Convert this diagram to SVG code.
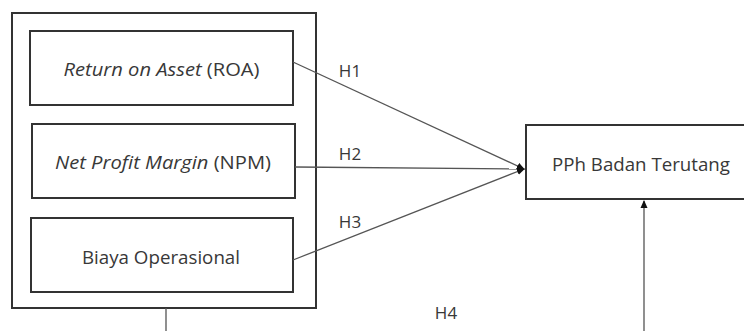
<svg xmlns="http://www.w3.org/2000/svg" width="744" height="331" viewBox="0 0 744 331">
<defs>
<marker id="ah" markerWidth="8" markerHeight="8" refX="7" refY="4" orient="auto" markerUnits="userSpaceOnUse">
<path d="M0,0.5 L8,4 L0,7.5 z" fill="#111"/>
</marker>
<style>
.box{fill:#fff;stroke:#333;stroke-width:2}
.t{font-family:"Open Sans","Liberation Sans",sans-serif;font-size:18px;fill:#383838;text-anchor:middle}
.i{font-style:italic}
.ln{fill:none;stroke:#555;stroke-width:1.3}
.h{font-family:"Open Sans","Liberation Sans",sans-serif;font-size:17px;fill:#383838;text-anchor:middle}
</style>
</defs>
<rect width="744" height="331" fill="#fff"/>
<g id="group">
<rect class="box" x="12" y="13" width="304" height="295"/>
</g>
<g id="roa">
<rect class="box" x="30" y="31" width="263" height="74"/>
<text class="t" x="161.5" y="76" textLength="196" lengthAdjust="spacingAndGlyphs"><tspan class="i">Return on Asset</tspan> (ROA)</text>
</g>
<g id="npm">
<rect class="box" x="32" y="124" width="263" height="74"/>
<text class="t" x="163" y="169" textLength="216" lengthAdjust="spacingAndGlyphs"><tspan class="i">Net Profit Margin</tspan> (NPM)</text>
</g>
<g id="biaya">
<rect class="box" x="31" y="218" width="262" height="74"/>
<text class="t" x="161" y="264" textLength="158" lengthAdjust="spacingAndGlyphs">Biaya Operasional</text>
</g>
<g id="pph">
<rect class="box" x="526" y="125" width="230" height="74"/>
<text class="t" x="641" y="171" textLength="178" lengthAdjust="spacingAndGlyphs">PPh Badan Terutang</text>
</g>
<g id="connectors">
<line class="ln" x1="293" y1="62" x2="524" y2="169" marker-end="url(#ah)"/>
<line class="ln" x1="295" y1="167" x2="524" y2="169" marker-end="url(#ah)"/>
<line class="ln" x1="293" y1="260" x2="524" y2="169" marker-end="url(#ah)"/>
<path class="ln" d="M166,308 V345 H644 V201" marker-end="url(#ah)"/>
<text class="h" x="350" y="77">H1</text>
<text class="h" x="350" y="160">H2</text>
<text class="h" x="350" y="228">H3</text>
<text class="h" x="446" y="319">H4</text>
</g>
</svg>
